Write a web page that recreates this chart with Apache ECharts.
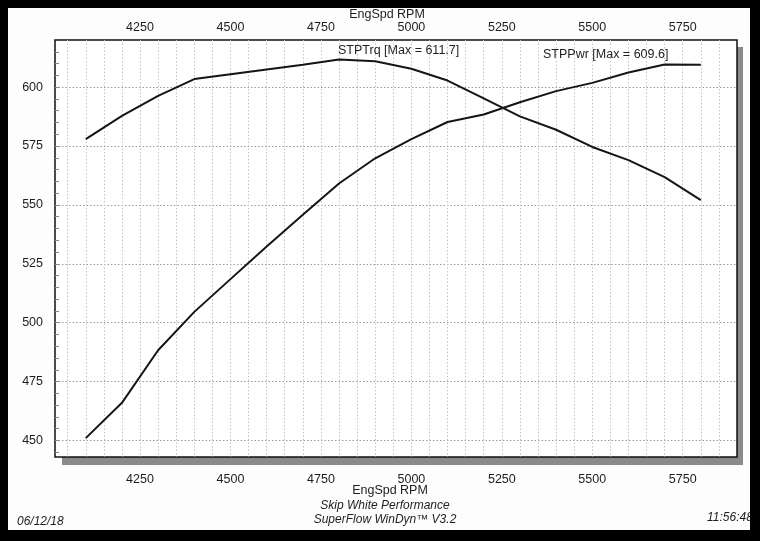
<!DOCTYPE html>
<html>
<head>
<meta charset="utf-8">
<script src="https://cdn.jsdelivr.net/npm/echarts@6/dist/echarts.min.js"></script>
<style>
html,body{margin:0;padding:0;background:#000;}
#c{width:760px;height:541px;}
</style>
</head>
<body>
<div id="c"></div>
<script>
// ---- data ----
const rpm = [4100, 4200, 4300, 4400, 4500, 4600, 4700, 4800, 4900, 5000, 5100, 5200, 5300, 5400, 5500, 5600, 5700, 5800];
const stpTrq = [577.9, 587.8, 596.3, 603.4, 605.5, 607.5, 609.5, 611.7, 611.0, 607.8, 602.8, 595.2, 587.6, 581.9, 574.6, 569.0, 561.8, 552.0];
const stpPwr = [451.0, 466.0, 488.3, 504.6, 518.5, 532.3, 545.8, 559.1, 569.8, 577.9, 585.2, 588.4, 593.6, 598.3, 601.8, 606.2, 609.6, 609.5];
const xTickLabels = [4250, 4500, 4750, 5000, 5250, 5500, 5750];
const yTickLabels = [450, 475, 500, 525, 550, 575, 600];
const xGridStep = 50;
const yMinorStep = 5;
const xRange = [4015, 5900];
const yRange = [443, 620];

const xGrid = [];
for (let v = Math.ceil(xRange[0] / xGridStep) * xGridStep; v < xRange[1]; v += xGridStep) xGrid.push(v);
const yMinor = [];
for (let v = Math.ceil(yRange[0] / yMinorStep) * yMinorStep; v < yRange[1]; v += yMinorStep) yMinor.push(v);

const trqData = rpm.map((r, i) => [r, stpTrq[i]]);
const pwrData = rpm.map((r, i) => [r, stpPwr[i]]);
const trqMax = Math.max(...stpTrq).toFixed(1);
const pwrMax = Math.max(...stpPwr).toFixed(1);

const FONT = '"Liberation Sans", Arial, sans-serif';
const TXT = '#1e1e1e';
const plain = v => String(Math.round(v));

const chart = echarts.init(document.getElementById('c'), null, {renderer: 'canvas'});
chart.setOption({
  backgroundColor: '#000',
  animation: false,
  textStyle: {fontFamily: FONT},
  grid: {
    left: 55, top: 40, right: 23, bottom: 84,
    show: true, backgroundColor: '#fff', borderColor: '#111', borderWidth: 1.5,
    containLabel: false
  },
  graphic: [
    {type: 'rect', z: -20, shape: {x: 8, y: 8, width: 742, height: 522}, style: {fill: '#fdfdfd'}},
    {type: 'rect', z: -10, shape: {x: 62, y: 47, width: 681, height: 418}, style: {fill: '#8a8a8a'}},
    {type: 'text', z: 10, x: 387, y: 15, style: {text: 'EngSpd RPM', font: '12.5px ' + FONT, fill: TXT, textAlign: 'center', textVerticalAlign: 'middle'}},
    {type: 'text', z: 10, x: 390, y: 491, style: {text: 'EngSpd RPM', font: '12.5px ' + FONT, fill: TXT, textAlign: 'center', textVerticalAlign: 'middle'}},
    {type: 'text', z: 10, x: 385, y: 506, style: {text: 'Skip White Performance', font: 'italic 12px ' + FONT, fill: TXT, textAlign: 'center', textVerticalAlign: 'middle'}},
    {type: 'text', z: 10, x: 385, y: 520, style: {text: 'SuperFlow WinDyn\u2122 V3.2', font: 'italic 12px ' + FONT, fill: TXT, textAlign: 'center', textVerticalAlign: 'middle'}},
    {type: 'text', z: 10, x: 17, y: 522, style: {text: '06/12/18', font: 'italic 12px ' + FONT, fill: TXT, textAlign: 'left', textVerticalAlign: 'middle'}},
    {type: 'text', z: 10, x: 707, y: 518, style: {text: '11:56:48', font: 'italic 12px ' + FONT, fill: TXT, textAlign: 'left', textVerticalAlign: 'middle'}},
    {type: 'rect', z: 20, shape: {x: 750, y: 0, width: 10, height: 541}, style: {fill: '#000'}},
    {type: 'text', z: 10, x: 338, y: 51, style: {text: 'STPTrq [Max = ' + trqMax + ']', font: '12.5px ' + FONT, fill: TXT, textAlign: 'left', textVerticalAlign: 'middle'}},
    {type: 'text', z: 10, x: 543, y: 55, style: {text: 'STPPwr [Max = ' + pwrMax + ']', font: '12.5px ' + FONT, fill: TXT, textAlign: 'left', textVerticalAlign: 'middle'}}
  ],
  xAxis: [
    {
      type: 'value', position: 'bottom', min: xRange[0], max: xRange[1],
      axisLine: {show: false},
      axisTick: {show: false, customValues: xGrid},
      axisLabel: {show: false},
      splitLine: {show: true, lineStyle: {color: '#c4c4c4', type: [1.5, 2], width: 1}}
    },
    {
      type: 'value', position: 'bottom', min: xRange[0], max: xRange[1],
      axisLine: {show: false},
      axisTick: {show: false, customValues: xTickLabels},
      axisLabel: {show: true, customValues: xTickLabels, formatter: plain, margin: 16, fontSize: 12.5, color: TXT, fontFamily: FONT},
      splitLine: {show: false}
    },
    {
      type: 'value', position: 'top', min: xRange[0], max: xRange[1],
      axisLine: {show: false},
      axisTick: {show: false, customValues: xTickLabels},
      axisLabel: {show: true, customValues: xTickLabels, formatter: plain, margin: 6, fontSize: 12.5, color: TXT, fontFamily: FONT},
      splitLine: {show: false}
    }
  ],
  yAxis: [
    {
      type: 'value', position: 'left', min: yRange[0], max: yRange[1],
      axisLine: {show: false},
      axisTick: {show: false, customValues: yTickLabels},
      axisLabel: {show: true, customValues: yTickLabels, formatter: plain, margin: 12, fontSize: 12.5, color: TXT, fontFamily: FONT},
      splitLine: {show: true, lineStyle: {color: '#9a9a9a', type: [1.5, 2], width: 1}}
    },
    {
      type: 'value', position: 'left', min: yRange[0], max: yRange[1],
      axisLine: {show: false},
      axisTick: {show: true, inside: true, length: 4, customValues: yMinor, lineStyle: {color: '#888', width: 1}},
      axisLabel: {show: false},
      splitLine: {show: false}
    }
  ],
  series: [
    {
      name: 'STPTrq', type: 'line', data: trqData, xAxisIndex: 0, yAxisIndex: 0,
      showSymbol: false, smooth: false,
      lineStyle: {color: '#151515', width: 2}
    },
    {
      name: 'STPPwr', type: 'line', data: pwrData, xAxisIndex: 0, yAxisIndex: 0,
      showSymbol: false, smooth: false,
      lineStyle: {color: '#151515', width: 2}
    }
  ]
});
</script>
</body>
</html>
